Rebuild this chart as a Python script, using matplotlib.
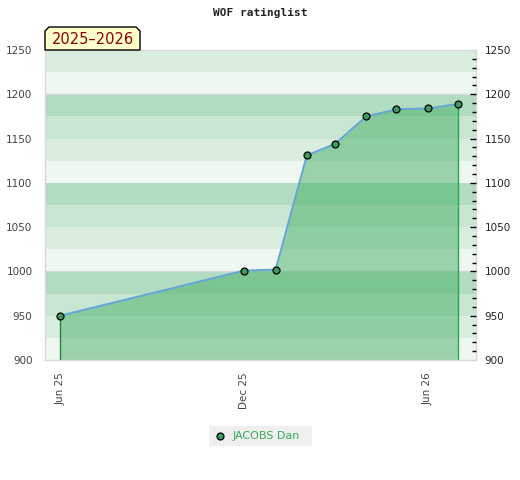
import numpy as np
import matplotlib.pyplot as plt
import matplotlib.dates as mdates
from matplotlib.patches import Polygon, Rectangle
from matplotlib.lines import Line2D
import datetime as dt

# rating history
dates = ["2025-06-01", "2025-12-01", "2026-01-01", "2026-02-01", "2026-03-01",
         "2026-04-01", "2026-05-01", "2026-06-01", "2026-07-01"]
ratings = [950, 1001, 1002, 1131, 1144, 1175, 1183, 1184, 1189]
player = "JACOBS Dan"
season = "2025\u20132026"
title = "WOF ratinglist"

xticks = ["2025-06-01", "2025-12-01", "2026-06-01"]
xticklabels = ["Jun 25", "Dec 25", "Jun 26"]
ymin, ymax = 900, 1250

W, H = 520, 480
fig = plt.figure(figsize=(W / 100, H / 100), dpi=100)
ax = fig.add_axes([45 / W, 1 - 360 / H, (476 - 45) / W, (360 - 50) / H])

x = [dt.datetime.strptime(d, "%Y-%m-%d") for d in dates]
xt = [dt.datetime.strptime(d, "%Y-%m-%d") for d in xticks]

# striped background, repeating every 100 points
band_cols = ["#eff7f1", "#daeee0", "#c8e6d1", "#b2dcc1"]
for i, lo in enumerate(range(ymin, ymax, 25)):
    ax.axhspan(lo, lo + 25, color=band_cols[i % 4], lw=0, zorder=0)
for g in (1000, 1200):
    ax.axhline(g, color="#d6d6d6", lw=1, zorder=0.5)

ax.fill_between(x, ratings, ymin, color="#46af67", alpha=0.5, lw=0, zorder=1)
ax.vlines(x[0], ymin, ratings[0], color="#2e7d3e", lw=1, zorder=2)
ax.vlines(x[-1], ymin, ratings[-1], color="#28a745", lw=1, zorder=2)
ax.plot(x, ratings, color="#64a5d8", lw=1.4, zorder=3)
ax.plot(x, ratings, "o", ms=5, mfc="#3a9d5d", mec="black", mew=0.9, zorder=4)

ax.set_xlim(dt.datetime(2025, 5, 17), dt.datetime(2026, 7, 19))
ax.set_ylim(ymin, ymax)
ax.set_xticks(xt)
ax.set_xticklabels(xticklabels, rotation=90, fontsize=7.5, color="#444444")
ax.tick_params(axis="x", length=0, pad=9)
ax.set_yticks(range(ymin, ymax + 1, 50))
ax.tick_params(axis="y", length=0, pad=9, labelsize=7.5, labelcolor="#444444")
for s in ax.spines.values():
    s.set_color("#d8d8d8")
    s.set_linewidth(1)

ax2 = ax.twinx()
ax2.set_ylim(ymin, ymax)
ax2.set_yticks(range(ymin, ymax + 1, 50))
ax2.set_yticks(range(ymin + 10, ymax, 10), minor=True)
ax2.tick_params(axis="y", which="major", direction="in", length=4, width=1,
                pad=6, labelsize=7.5, labelcolor="#222222")
ax2.tick_params(axis="y", which="minor", direction="in", length=3, width=1)
maj = ax2.yaxis.get_major_ticks()
for t in (maj[0], maj[-1]):
    t.tick2line.set_visible(False)
for s in ax2.spines.values():
    s.set_visible(False)

fig.text(0.5, 1 - 13 / H, title, ha="center", va="center",
         family="DejaVu Sans Mono", weight="bold", fontsize=8, color="#222222")

# season tag
px = lambda a, b: (a / W, 1 - b / H)
tag = Polygon([px(45, 50), px(45, 31), px(49, 27), px(136, 27), px(140, 31), px(140, 50)],
              closed=True, transform=fig.transFigure, fc="#ffffcc", ec="black", lw=1)
fig.patches.append(tag)
fig.text(92.5 / W, 1 - 39 / H, season, ha="center", va="center",
         fontsize=10.5, color="#8b0000")

# legend
fig.patches.append(Rectangle(px(209, 446), 103 / W, 20 / H, transform=fig.transFigure,
                             fc="#efefef", ec="none"))
fig.lines.append(Line2D([220 / W], [1 - 436 / H], marker="o", ms=5, mfc="#3a9d5d",
                        mec="black", mew=0.9, transform=fig.transFigure))
fig.text(233 / W, 1 - 436 / H, player, ha="left", va="center", fontsize=8, color="#3aaa5a")

fig.savefig("out.png", dpi=100)
